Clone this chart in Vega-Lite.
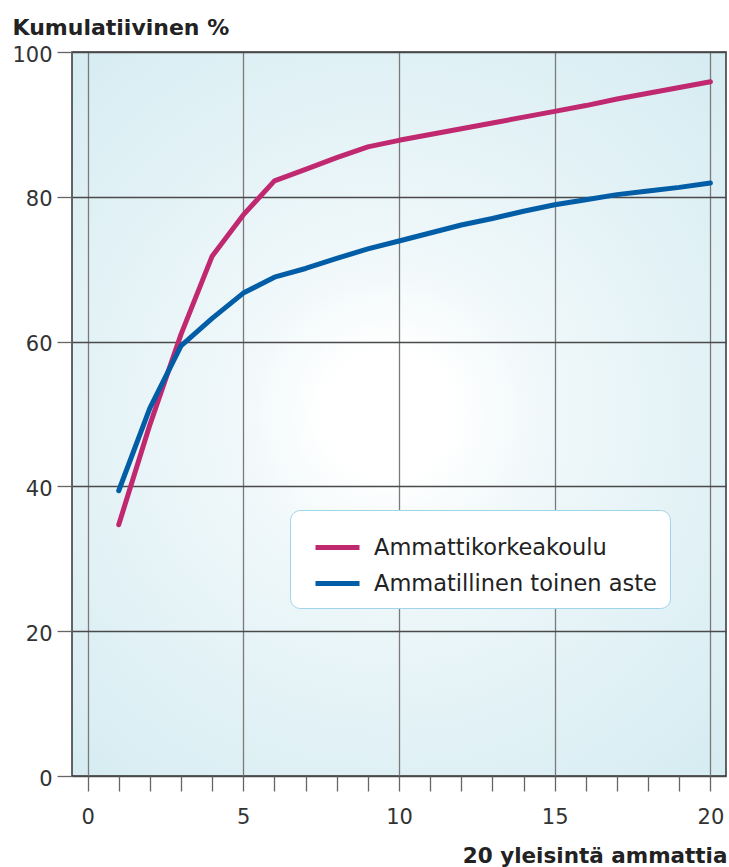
{
  "$schema": "https://vega.github.io/schema/vega-lite/v6.json",
  "width": 654,
  "height": 724,
  "autosize": {"type": "none"},
  "padding": {"left": 72, "top": 52, "right": 3, "bottom": 91},
  "background": "white",
  "config": {
    "font": "DejaVu Sans",
    "view": {
      "stroke": "#333333",
      "strokeWidth": 1.5,
      "fill": {
        "gradient": "radial",
        "x1": 0.486, "y1": 0.5, "r1": 0,
        "x2": 0.486, "y2": 0.5, "r2": 0.72,
        "stops": [
          {"offset": 0, "color": "#ffffff"},
          {"offset": 0.12, "color": "#ffffff"},
          {"offset": 0.3, "color": "#f0f8fa"},
          {"offset": 0.6, "color": "#e3f2f6"},
          {"offset": 1, "color": "#d3ebf1"}
        ]
      }
    }
  },
  "data": {
    "values": [
      {"sarja": "Ammattikorkeakoulu", "x": 1, "y": 34.7},
      {"sarja": "Ammattikorkeakoulu", "x": 2, "y": 48.5},
      {"sarja": "Ammattikorkeakoulu", "x": 3, "y": 61.0},
      {"sarja": "Ammattikorkeakoulu", "x": 4, "y": 71.8},
      {"sarja": "Ammattikorkeakoulu", "x": 5, "y": 77.5},
      {"sarja": "Ammattikorkeakoulu", "x": 6, "y": 82.2},
      {"sarja": "Ammattikorkeakoulu", "x": 7, "y": 83.8},
      {"sarja": "Ammattikorkeakoulu", "x": 8, "y": 85.4},
      {"sarja": "Ammattikorkeakoulu", "x": 9, "y": 86.9},
      {"sarja": "Ammattikorkeakoulu", "x": 10, "y": 87.8},
      {"sarja": "Ammattikorkeakoulu", "x": 11, "y": 88.6},
      {"sarja": "Ammattikorkeakoulu", "x": 12, "y": 89.4},
      {"sarja": "Ammattikorkeakoulu", "x": 13, "y": 90.2},
      {"sarja": "Ammattikorkeakoulu", "x": 14, "y": 91.0},
      {"sarja": "Ammattikorkeakoulu", "x": 15, "y": 91.8},
      {"sarja": "Ammattikorkeakoulu", "x": 16, "y": 92.6},
      {"sarja": "Ammattikorkeakoulu", "x": 17, "y": 93.5},
      {"sarja": "Ammattikorkeakoulu", "x": 18, "y": 94.3},
      {"sarja": "Ammattikorkeakoulu", "x": 19, "y": 95.1},
      {"sarja": "Ammattikorkeakoulu", "x": 20, "y": 95.9},
      {"sarja": "Ammatillinen toinen aste", "x": 1, "y": 39.4},
      {"sarja": "Ammatillinen toinen aste", "x": 2, "y": 50.8},
      {"sarja": "Ammatillinen toinen aste", "x": 3, "y": 59.4},
      {"sarja": "Ammatillinen toinen aste", "x": 4, "y": 63.2},
      {"sarja": "Ammatillinen toinen aste", "x": 5, "y": 66.7},
      {"sarja": "Ammatillinen toinen aste", "x": 6, "y": 68.9},
      {"sarja": "Ammatillinen toinen aste", "x": 7, "y": 70.1},
      {"sarja": "Ammatillinen toinen aste", "x": 8, "y": 71.5},
      {"sarja": "Ammatillinen toinen aste", "x": 9, "y": 72.8},
      {"sarja": "Ammatillinen toinen aste", "x": 10, "y": 73.9},
      {"sarja": "Ammatillinen toinen aste", "x": 11, "y": 75.0},
      {"sarja": "Ammatillinen toinen aste", "x": 12, "y": 76.1},
      {"sarja": "Ammatillinen toinen aste", "x": 13, "y": 77.0},
      {"sarja": "Ammatillinen toinen aste", "x": 14, "y": 78.0},
      {"sarja": "Ammatillinen toinen aste", "x": 15, "y": 78.9},
      {"sarja": "Ammatillinen toinen aste", "x": 16, "y": 79.6},
      {"sarja": "Ammatillinen toinen aste", "x": 17, "y": 80.3},
      {"sarja": "Ammatillinen toinen aste", "x": 18, "y": 80.8},
      {"sarja": "Ammatillinen toinen aste", "x": 19, "y": 81.3},
      {"sarja": "Ammatillinen toinen aste", "x": 20, "y": 81.9}
    ]
  },
  "mark": {"type": "line", "strokeWidth": 5, "strokeCap": "round", "strokeJoin": "round"},
  "encoding": {
    "x": {
      "field": "x",
      "type": "quantitative",
      "scale": {"domain": [-0.5, 20.5], "nice": false, "zero": false},
      "axis": {
        "title": "20 yleisintä ammattia",
        "titleFontWeight": "bold",
        "titleFontSize": 21.5,
        "titleColor": "#222222",
        "titleAnchor": "end",
        "titleAlign": "right",
        "titleBaseline": "alphabetic",
        "titleX": 655,
        "titleY": 86,
        "values": [0,1,2,3,4,5,6,7,8,9,10,11,12,13,14,15,16,17,18,19,20],
        "labelExpr": "datum.value % 5 === 0 ? datum.label : ''",
        "labelFontSize": 21,
        "labelColor": "#333333",
        "labelPadding": 15,
        "labelFlush": false,
        "tickSize": 15,
        "tickColor": "#666666",
        "tickWidth": 1.3,
        "domain": false,
        "grid": true,
        "gridColor": "#7a7a7a",
        "gridWidth": 1.3,
        "gridOpacity": {"condition": {"test": "datum.value % 5 === 0", "value": 1}, "value": 0}
      }
    },
    "y": {
      "field": "y",
      "type": "quantitative",
      "scale": {"domain": [0, 100], "nice": false},
      "axis": {
        "title": "Kumulatiivinen %",
        "titleFontWeight": "bold",
        "titleFontSize": 22,
        "titleColor": "#222222",
        "titleAngle": 0,
        "titleAlign": "left",
        "titleBaseline": "alphabetic",
        "titleX": -60,
        "titleY": -18,
        "values": [0, 20, 40, 60, 80, 100],
        "labelFontSize": 21,
        "labelColor": "#333333",
        "labelPadding": 5,
        "labelOffset": 3,
        "tickSize": 15,
        "tickColor": "#666666",
        "tickWidth": 1.3,
        "domain": false,
        "grid": true,
        "gridColor": "#4a4a4a",
        "gridWidth": 1.3
      }
    },
    "color": {
      "field": "sarja",
      "type": "nominal",
      "scale": {
        "domain": ["Ammattikorkeakoulu", "Ammatillinen toinen aste"],
        "range": ["#c02870", "#005da6"]
      },
      "legend": {
        "title": null,
        "orient": "none",
        "legendX": 218,
        "legendY": 458,
        "fillColor": "white",
        "strokeColor": "#9dd6e6",
        "cornerRadius": 10,
        "padding": 13,
        "rowPadding": -17,
        "symbolType": "stroke",
        "symbolSize": 1936,
        "symbolStrokeWidth": 5,
        "symbolOffset": 10,
        "labelFontSize": 22.5,
        "labelColor": "#222222",
        "labelOffset": 12,
        "labelLimit": 400
      }
    }
  }
}
